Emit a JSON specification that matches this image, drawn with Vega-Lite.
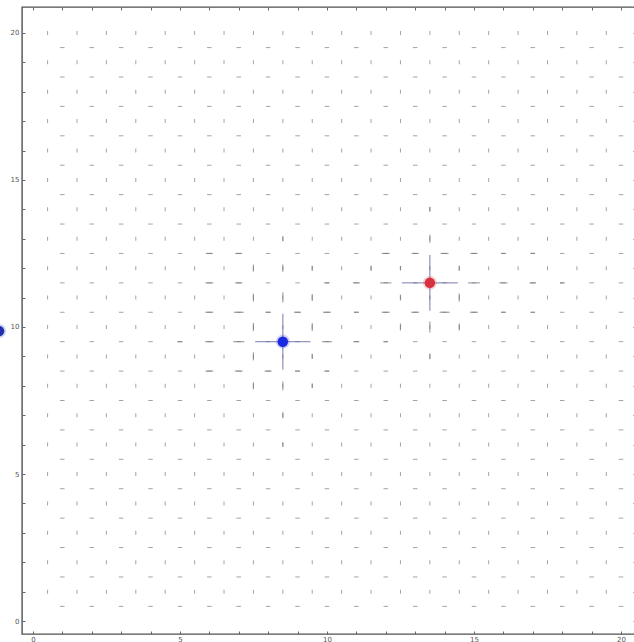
{
  "$schema": "https://vega.github.io/schema/vega-lite/v6.json",
  "width": 614,
  "height": 627,
  "autosize": {"type": "none"},
  "padding": {"left": 22, "top": 7, "right": 0, "bottom": 8},
  "background": "white",
  "config": {
    "view": {"stroke": "#505050", "strokeWidth": 1.4},
    "axis": {"grid": false, "domain": false, "tickColor": "#666666", "tickSize": -3, "tickWidth": 1, "labelFontSize": 7, "labelColor": "#555555", "labelFont": "DejaVu Sans", "title": null, "labelOverlap": false, "labelBound": false, "labelFlush": false}
  },
  "datasets": {
    "vgrid": [
      {"y": 1, "xs": [0.5,1.5,2.5,3.5,4.5,5.5,6.5,7.5,8.5,9.5,10.5,11.5,12.5,13.5,14.5,15.5,16.5,17.5,18.5,19.5]},
      {"y": 2, "xs": [0.5,1.5,2.5,3.5,4.5,5.5,6.5,7.5,8.5,9.5,10.5,11.5,12.5,13.5,14.5,15.5,16.5,17.5,18.5,19.5]},
      {"y": 3, "xs": [0.5,1.5,2.5,3.5,4.5,5.5,6.5,7.5,8.5,9.5,10.5,11.5,12.5,13.5,14.5,15.5,16.5,17.5,18.5,19.5]},
      {"y": 4, "xs": [0.5,1.5,2.5,3.5,4.5,5.5,6.5,7.5,8.5,9.5,10.5,11.5,12.5,13.5,14.5,15.5,16.5,17.5,18.5,19.5]},
      {"y": 5, "xs": [0.5,1.5,2.5,3.5,4.5,5.5,6.5,7.5,8.5,9.5,10.5,11.5,12.5,13.5,14.5,15.5,16.5,17.5,18.5,19.5]},
      {"y": 6, "xs": [0.5,1.5,2.5,3.5,4.5,5.5,6.5,7.5,8.5,9.5,10.5,11.5,12.5,13.5,14.5,15.5,16.5,17.5,18.5,19.5]},
      {"y": 7, "xs": [0.5,1.5,2.5,3.5,4.5,5.5,6.5,7.5,8.5,9.5,10.5,11.5,12.5,13.5,14.5,15.5,16.5,17.5,18.5,19.5]},
      {"y": 8, "xs": [0.5,1.5,2.5,3.5,4.5,5.5,6.5,7.5,8.5,9.5,10.5,11.5,12.5,13.5,14.5,15.5,16.5,17.5,18.5,19.5]},
      {"y": 9, "xs": [0.5,1.5,2.5,3.5,4.5,5.5,6.5,7.5,8.5,9.5,10.5,11.5,12.5,13.5,14.5,15.5,16.5,17.5,18.5,19.5]},
      {"y": 10, "xs": [0.5,1.5,2.5,3.5,4.5,5.5,6.5,7.5,8.5,9.5,10.5,11.5,12.5,13.5,14.5,15.5,16.5,17.5,18.5,19.5]},
      {"y": 11, "xs": [0.5,1.5,2.5,3.5,4.5,5.5,6.5,7.5,8.5,9.5,10.5,11.5,12.5,13.5,14.5,15.5,16.5,17.5,18.5,19.5]},
      {"y": 12, "xs": [0.5,1.5,2.5,3.5,4.5,5.5,6.5,7.5,8.5,9.5,10.5,11.5,12.5,13.5,14.5,15.5,16.5,17.5,18.5,19.5]},
      {"y": 13, "xs": [0.5,1.5,2.5,3.5,4.5,5.5,6.5,7.5,8.5,9.5,10.5,11.5,12.5,13.5,14.5,15.5,16.5,17.5,18.5,19.5]},
      {"y": 14, "xs": [0.5,1.5,2.5,3.5,4.5,5.5,6.5,7.5,8.5,9.5,10.5,11.5,12.5,13.5,14.5,15.5,16.5,17.5,18.5,19.5]},
      {"y": 15, "xs": [0.5,1.5,2.5,3.5,4.5,5.5,6.5,7.5,8.5,9.5,10.5,11.5,12.5,13.5,14.5,15.5,16.5,17.5,18.5,19.5]},
      {"y": 16, "xs": [0.5,1.5,2.5,3.5,4.5,5.5,6.5,7.5,8.5,9.5,10.5,11.5,12.5,13.5,14.5,15.5,16.5,17.5,18.5,19.5]},
      {"y": 17, "xs": [0.5,1.5,2.5,3.5,4.5,5.5,6.5,7.5,8.5,9.5,10.5,11.5,12.5,13.5,14.5,15.5,16.5,17.5,18.5,19.5]},
      {"y": 18, "xs": [0.5,1.5,2.5,3.5,4.5,5.5,6.5,7.5,8.5,9.5,10.5,11.5,12.5,13.5,14.5,15.5,16.5,17.5,18.5,19.5]},
      {"y": 19, "xs": [0.5,1.5,2.5,3.5,4.5,5.5,6.5,7.5,8.5,9.5,10.5,11.5,12.5,13.5,14.5,15.5,16.5,17.5,18.5,19.5]},
      {"y": 20, "xs": [0.5,1.5,2.5,3.5,4.5,5.5,6.5,7.5,8.5,9.5,10.5,11.5,12.5,13.5,14.5,15.5,16.5,17.5,18.5,19.5]}
    ],
    "hgrid": [
      {"y": 0.5, "xs": [1,2,3,4,5,6,7,8,9,10,11,12,13,14,15,16,17,18,19,20]},
      {"y": 1.5, "xs": [1,2,3,4,5,6,7,8,9,10,11,12,13,14,15,16,17,18,19,20]},
      {"y": 2.5, "xs": [1,2,3,4,5,6,7,8,9,10,11,12,13,14,15,16,17,18,19,20]},
      {"y": 3.5, "xs": [1,2,3,4,5,6,7,8,9,10,11,12,13,14,15,16,17,18,19,20]},
      {"y": 4.5, "xs": [1,2,3,4,5,6,7,8,9,10,11,12,13,14,15,16,17,18,19,20]},
      {"y": 5.5, "xs": [1,2,3,4,5,6,7,8,9,10,11,12,13,14,15,16,17,18,19,20]},
      {"y": 6.5, "xs": [1,2,3,4,5,6,7,8,9,10,11,12,13,14,15,16,17,18,19,20]},
      {"y": 7.5, "xs": [1,2,3,4,5,6,7,8,9,10,11,12,13,14,15,16,17,18,19,20]},
      {"y": 8.5, "xs": [1,2,3,4,5,6,7,8,9,10,11,12,13,14,15,16,17,18,19,20]},
      {"y": 9.5, "xs": [1,2,3,4,5,6,7,8,9,10,11,12,13,14,15,16,17,18,19,20]},
      {"y": 10.5, "xs": [1,2,3,4,5,6,7,8,9,10,11,12,13,14,15,16,17,18,19,20]},
      {"y": 11.5, "xs": [1,2,3,4,5,6,7,8,9,10,11,12,13,14,15,16,17,18,19,20]},
      {"y": 12.5, "xs": [1,2,3,4,5,6,7,8,9,10,11,12,13,14,15,16,17,18,19,20]},
      {"y": 13.5, "xs": [1,2,3,4,5,6,7,8,9,10,11,12,13,14,15,16,17,18,19,20]},
      {"y": 14.5, "xs": [1,2,3,4,5,6,7,8,9,10,11,12,13,14,15,16,17,18,19,20]},
      {"y": 15.5, "xs": [1,2,3,4,5,6,7,8,9,10,11,12,13,14,15,16,17,18,19,20]},
      {"y": 16.5, "xs": [1,2,3,4,5,6,7,8,9,10,11,12,13,14,15,16,17,18,19,20]},
      {"y": 17.5, "xs": [1,2,3,4,5,6,7,8,9,10,11,12,13,14,15,16,17,18,19,20]},
      {"y": 18.5, "xs": [1,2,3,4,5,6,7,8,9,10,11,12,13,14,15,16,17,18,19,20]},
      {"y": 19.5, "xs": [1,2,3,4,5,6,7,8,9,10,11,12,13,14,15,16,17,18,19,20]}
    ],
    "vspec": [
      {"x": 8.5, "y": 9, "l": 0.9}, {"x": 8.5, "y": 10, "l": 0.9}, {"x": 8.5, "y": 11, "l": 0.34}, {"x": 8.5, "y": 8, "l": 0.3},
      {"x": 8.5, "y": 12, "l": 0.24}, {"x": 8.5, "y": 7, "l": 0.2}, {"x": 8.5, "y": 13, "l": 0.17}, {"x": 8.5, "y": 6, "l": 0.15},
      {"x": 7.5, "y": 10, "l": 0.28}, {"x": 9.5, "y": 10, "l": 0.27}, {"x": 7.5, "y": 9, "l": 0.27}, {"x": 9.5, "y": 9, "l": 0.18},
      {"x": 7.5, "y": 11, "l": 0.27}, {"x": 9.5, "y": 11, "l": 0.24}, {"x": 7.5, "y": 8, "l": 0.24}, {"x": 9.5, "y": 8, "l": 0.16},
      {"x": 7.5, "y": 12, "l": 0.24}, {"x": 9.5, "y": 12, "l": 0.17}, {"x": 11.5, "y": 12, "l": 0.17},
      {"x": 13.5, "y": 11, "l": 0.9}, {"x": 13.5, "y": 12, "l": 0.9}, {"x": 13.5, "y": 13, "l": 0.27}, {"x": 13.5, "y": 10, "l": 0.37},
      {"x": 13.5, "y": 14, "l": 0.17}, {"x": 13.5, "y": 9, "l": 0.2},
      {"x": 12.5, "y": 11, "l": 0.2}, {"x": 14.5, "y": 11, "l": 0.27}, {"x": 12.5, "y": 10, "l": 0.24}, {"x": 14.5, "y": 10, "l": 0.24},
      {"x": 12.5, "y": 12, "l": 0.15}, {"x": 14.5, "y": 12, "l": 0.17}
    ],
    "hspec": [
      {"x": 8, "y": 9.5, "l": 0.88}, {"x": 9, "y": 9.5, "l": 0.88}, {"x": 7, "y": 9.5, "l": 0.38}, {"x": 10, "y": 9.5, "l": 0.34},
      {"x": 6, "y": 9.5, "l": 0.28}, {"x": 11, "y": 9.5, "l": 0.2}, {"x": 5, "y": 9.5, "l": 0.17}, {"x": 12, "y": 9.5, "l": 0.15},
      {"x": 6, "y": 10.5, "l": 0.27}, {"x": 7, "y": 10.5, "l": 0.34}, {"x": 8, "y": 10.5, "l": 0.18}, {"x": 9, "y": 10.5, "l": 0.24},
      {"x": 10, "y": 10.5, "l": 0.27}, {"x": 11, "y": 10.5, "l": 0.17},
      {"x": 6, "y": 8.5, "l": 0.27}, {"x": 7, "y": 8.5, "l": 0.27}, {"x": 8, "y": 8.5, "l": 0.24}, {"x": 9, "y": 8.5, "l": 0.17}, {"x": 10, "y": 8.5, "l": 0.17},
      {"x": 6, "y": 11.5, "l": 0.27}, {"x": 7, "y": 11.5, "l": 0.24}, {"x": 10, "y": 11.5, "l": 0.17}, {"x": 11, "y": 11.5, "l": 0.24},
      {"x": 6, "y": 12.5, "l": 0.24}, {"x": 7, "y": 12.5, "l": 0.24},
      {"x": 13, "y": 11.5, "l": 0.9}, {"x": 14, "y": 11.5, "l": 0.9}, {"x": 12, "y": 11.5, "l": 0.38}, {"x": 15, "y": 11.5, "l": 0.4},
      {"x": 16, "y": 11.5, "l": 0.28}, {"x": 17, "y": 11.5, "l": 0.22}, {"x": 18, "y": 11.5, "l": 0.15},
      {"x": 12, "y": 12.5, "l": 0.27}, {"x": 13, "y": 12.5, "l": 0.24}, {"x": 14, "y": 12.5, "l": 0.27}, {"x": 15, "y": 12.5, "l": 0.24},
      {"x": 16, "y": 12.5, "l": 0.15}, {"x": 17, "y": 12.5, "l": 0.15},
      {"x": 12, "y": 10.5, "l": 0.27}, {"x": 13, "y": 10.5, "l": 0.27}, {"x": 14, "y": 10.5, "l": 0.34}, {"x": 15, "y": 10.5, "l": 0.27},
      {"x": 16, "y": 10.5, "l": 0.15}, {"x": 17, "y": 10.5, "l": 0.15}
    ],
    "charges": [
      {"x": 8.5, "y": 9.5, "q": "neg"},
      {"x": 13.5, "y": 11.5, "q": "pos"},
      {"x": -1.15, "y": 9.86, "q": "edge"}
    ]
  },
  "layer": [
    {
      "data": {"name": "vgrid"},
      "transform": [{"flatten": ["xs"], "as": ["x"]}],
      "mark": {"type": "tick", "orient": "vertical", "size": 4, "thickness": 1, "color": "#7c7c7c"},
      "encoding": {
        "x": {"field": "x", "type": "quantitative", "scale": {"domain": [-0.37, 20.51], "nice": false, "zero": false},
              "axis": {"orient": "bottom", "values": [0,1,2,3,4,5,6,7,8,9,10,11,12,13,14,15,16,17,18,19,20], "labelExpr": "datum.value % 5 === 0 ? datum.label : ''", "labelPadding": 4}},
        "y": {"field": "y", "type": "quantitative", "scale": {"domain": [-0.44, 20.88], "nice": false, "zero": false},
              "axis": {"orient": "left", "values": [0,1,2,3,4,5,6,7,8,9,10,11,12,13,14,15,16,17,18,19,20], "labelExpr": "datum.value % 5 === 0 ? datum.label : ''", "labelPadding": 6}}
      }
    },
    {
      "data": {"name": "hgrid"},
      "transform": [{"flatten": ["xs"], "as": ["x"]}],
      "mark": {"type": "tick", "orient": "horizontal", "size": 4.5, "thickness": 1, "color": "#7c7c7c"},
      "encoding": {
        "x": {"field": "x", "type": "quantitative", "scale": {"domain": [-0.37, 20.51], "nice": false, "zero": false},
              "axis": {"orient": "top", "values": [0,1,2,3,4,5,6,7,8,9,10,11,12,13,14,15,16,17,18,19,20], "labels": false}},
        "y": {"field": "y", "type": "quantitative", "scale": {"domain": [-0.44, 20.88], "nice": false, "zero": false},
              "axis": {"orient": "right", "values": [0,1,2,3,4,5,6,7,8,9,10,11,12,13,14,15,16,17,18,19,20], "labels": false}}
      }
    },
    {
      "data": {"name": "vspec"},
      "mark": {"type": "tick", "orient": "vertical", "thickness": 1.2},
      "encoding": {
        "x": {"field": "x", "type": "quantitative", "axis": null},
        "y": {"field": "y", "type": "quantitative", "axis": null},
        "size": {"field": "l", "type": "quantitative", "scale": {"type": "linear", "domain": [0, 1], "range": [0, 29.4], "zero": true}, "legend": null},
        "color": {"condition": {"test": "datum.l > 0.5", "value": "#5d64a0"}, "value": "#777788"}
      }
    },
    {
      "data": {"name": "hspec"},
      "mark": {"type": "tick", "orient": "horizontal", "thickness": 1.2},
      "encoding": {
        "x": {"field": "x", "type": "quantitative", "axis": null},
        "y": {"field": "y", "type": "quantitative", "axis": null},
        "size": {"field": "l", "type": "quantitative", "scale": {"type": "linear", "domain": [0, 1], "range": [0, 29.4], "zero": true}, "legend": null},
        "color": {"condition": {"test": "datum.l > 0.5", "value": "#5d64a0"}, "value": "#777788"}
      }
    },
    {
      "data": {"name": "charges"},
      "mark": {"type": "circle", "clip": false, "size": 200, "opacity": 0.2},
      "encoding": {
        "x": {"field": "x", "type": "quantitative", "axis": null},
        "y": {"field": "y", "type": "quantitative", "axis": null},
        "color": {"field": "q", "type": "nominal", "scale": {"domain": ["neg", "pos", "edge"], "range": ["#1a2ae0", "#d83040", "#2030b0"]}, "legend": null}
      }
    },
    {
      "data": {"name": "charges"},
      "mark": {"type": "circle", "clip": false, "size": 110, "opacity": 1},
      "encoding": {
        "x": {"field": "x", "type": "quantitative", "axis": null},
        "y": {"field": "y", "type": "quantitative", "axis": null},
        "color": {"field": "q", "type": "nominal", "scale": {"domain": ["neg", "pos", "edge"], "range": ["#0614c8", "#c01628", "#14229a"]}, "legend": null}
      }
    }
  ],
  "resolve": {"axis": {"x": "independent", "y": "independent"}}
}
